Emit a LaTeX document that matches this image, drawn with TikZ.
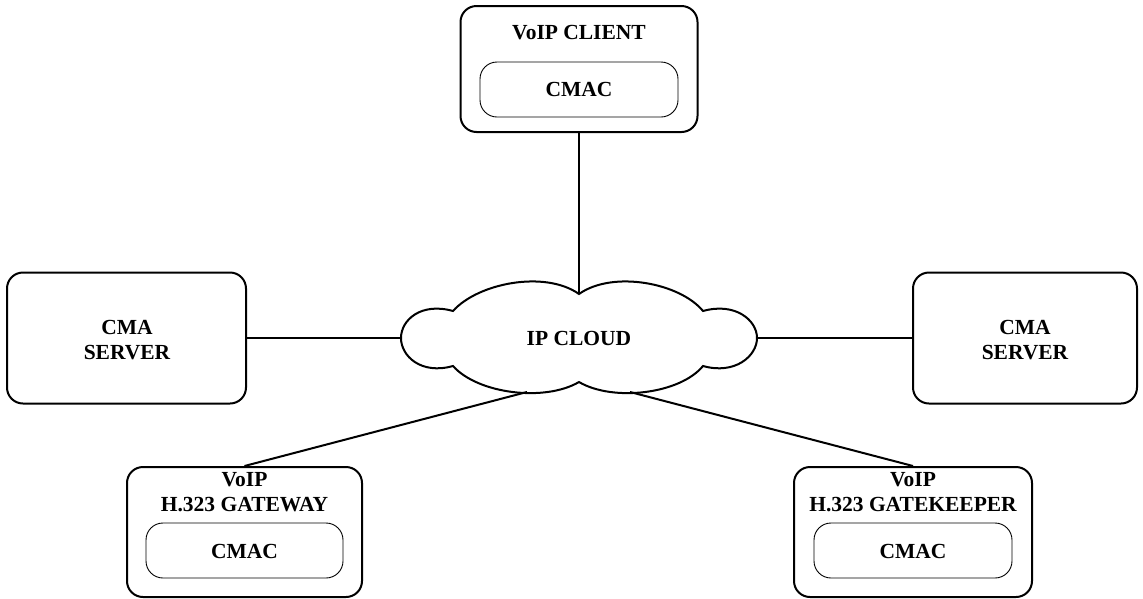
\documentclass[tikz,border=0pt]{standalone}
\usepackage{fontspec}
\setmainfont{Liberation Serif}
\begin{document}
\begin{tikzpicture}[x=1pt,y=-1pt,
  outerbox/.style={draw=black,line width=2pt,rounded corners=16pt,inner sep=0pt},
  innerbox/.style={draw=black,line width=0.9pt,rounded corners=17pt,inner sep=0pt,minimum width=198pt,minimum height=55pt},
  lbl/.style={font=\fontsize{21.5}{24.5}\selectfont\bfseries,align=center,inner sep=0pt},
  conn/.style={draw=black,line width=2pt}]
\useasboundingbox (0,0) rectangle (1143,598);
% boxes
\node[outerbox,minimum width=237pt,minimum height=126pt] (client) at (579,69) {};
\node[innerbox] (clientc) at (579,89.5) {};
\node[lbl] (clientt) at (579,33) {VoIP CLIENT};
\node[lbl] (clientct) at (579,89.5) {CMAC};
\node[outerbox,minimum width=239pt,minimum height=131pt] (lserver) at (126.5,338) {};
\node[lbl] (lservert) at (127,340) {CMA\\SERVER};
\node[outerbox,minimum width=224pt,minimum height=131pt] (rserver) at (1025,338) {};
\node[lbl] (rservert) at (1025,340) {CMA\\SERVER};
\node[outerbox,minimum width=235pt,minimum height=130pt] (gw) at (244.5,532) {};
\node[innerbox,minimum width=197pt] (gwc) at (244.5,550.5) {};
\node[lbl] (gwt) at (244.5,492) {VoIP\\H.323 GATEWAY};
\node[lbl] (gwct) at (244.5,551) {CMAC};
\node[outerbox,minimum width=238pt,minimum height=130pt] (gk) at (913,532) {};
\node[innerbox,minimum width=198pt] (gkc) at (913,550.5) {};
\node[lbl] (gkt) at (913,492) {VoIP\\H.323 GATEKEEPER};
\node[lbl] (gkct) at (913,551) {CMAC};
% cloud
\draw[line width=2pt,fill=white]
  (453,311) .. controls (478,283) and (545,270) .. (579,294)
  .. controls (613,270) and (680,283) .. (703,311)
  .. controls (735,302) and (757,320) .. (757,338)
  .. controls (757,356) and (735,375) .. (703,366)
  .. controls (680,394) and (613,402) .. (579,382)
  .. controls (545,402) and (478,394) .. (453,366)
  .. controls (421,375) and (401,356) .. (401,338)
  .. controls (401,320) and (421,302) .. (453,311) -- cycle;
\node[lbl] (cloud) at (579,338) {IP CLOUD};
\coordinate (ct) at (579,294);
\coordinate (cl) at (401,338);
\coordinate (cr) at (757,338);
\coordinate (cbl) at (527,392);
\coordinate (cbr) at (630,392);
% connectors
\draw[conn] (client.south) -- (ct);
\draw[conn] (lserver.east) -- (cl);
\draw[conn] (cr) -- (rserver.west);
\draw[conn] (cbl) -- (gw.north);
\draw[conn] (cbr) -- (gk.north);
\end{tikzpicture}
\end{document}
